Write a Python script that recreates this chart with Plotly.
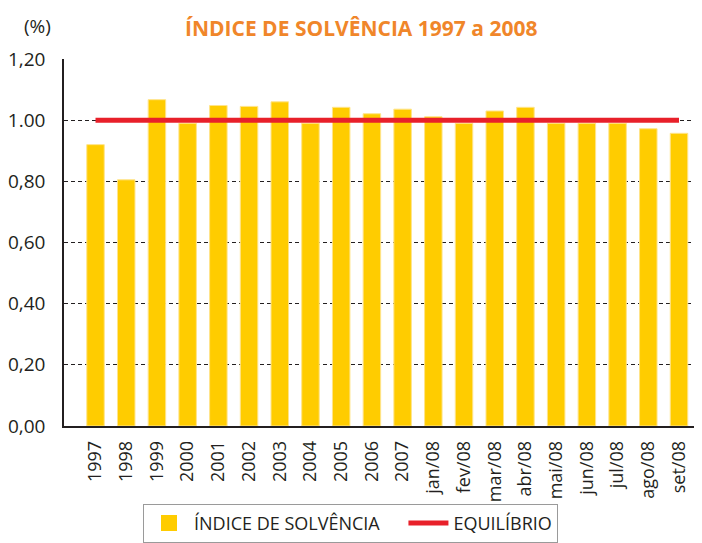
import plotly.graph_objects as go

categories = ["1997", "1998", "1999", "2000", "2001", "2002", "2003", "2004", "2005", "2006",
              "2007", "jan/08", "fev/08", "mar/08", "abr/08", "mai/08", "jun/08", "jul/08",
              "ago/08", "set/08"]
solvencia = [0.92, 0.805, 1.067, 0.99, 1.048, 1.045, 1.06, 0.99, 1.042, 1.021,
             1.036, 1.011, 0.99, 1.03, 1.042, 0.99, 0.99, 0.99, 0.972, 0.957]
equilibrio = 1.0
ytick_vals = [0, 0.2, 0.4, 0.6, 0.8, 1.0, 1.2]
ytick_text = ["0,00", "0,20", "0,40", "0,60", "0,80", "1.00", "1,20"]
legend_names = ["ÍNDICE DE SOLVÊNCIA", "EQUILÍBRIO"]

FONT = "Open Sans, sans-serif"
BAR_COLOR = "#FFCC00"
NBSP = "\u00a0"

# The page body adds an 8px margin, so the figure is 8px smaller than the window.
PLOT_L, PLOT_R, PLOT_T, PLOT_B = 64, 702, 59, 429  # plot area in window pixels
PW, PH = PLOT_R - PLOT_L, PLOT_B - PLOT_T


def px(xw):
    return (xw - PLOT_L) / PW


def py(yw):
    return (PLOT_B - yw) / PH


fig = go.Figure()
fig.add_trace(go.Bar(
    x=categories, y=solvencia, name=legend_names[0],
    marker=dict(color=BAR_COLOR, line=dict(color="#FFE48A", width=1)),
    width=0.57, showlegend=False,
))
# legend entry for the bars (larger square swatch)
fig.add_trace(go.Scatter(
    x=[None], y=[None], name=legend_names[0] + NBSP * 4, mode="markers",
    marker=dict(symbol="square", size=16, color=BAR_COLOR),
))
fig.add_trace(go.Scatter(
    x=[categories[0], categories[-1]], y=[equilibrio, equilibrio],
    name=legend_names[1], mode="lines",
    line=dict(color="#E8202A", width=5),
))

fig.update_layout(
    width=694, height=535,
    margin=dict(l=PLOT_L - 8, r=0, t=PLOT_T - 8, b=535 - (PLOT_B - 8)),
    paper_bgcolor="white", plot_bgcolor="white",
    font=dict(family=FONT, size=17, color="#231F20"),
    showlegend=True,
    legend=dict(
        orientation="h", x=px(143), xanchor="left",
        y=py(507.5), yanchor="top",
        bordercolor="#9a9a9a", borderwidth=1,
        font=dict(size=18, family=FONT),
        itemwidth=40, itemsizing="trace",
    ),
)
fig.add_annotation(text="<b>ÍNDICE DE SOLVÊNCIA 1997 a 2008</b>",
                   xref="paper", yref="paper",
                   x=px(361), y=py(28),
                   xanchor="center", yanchor="middle", showarrow=False,
                   font=dict(family=FONT, size=21, color="#F0862A"))
fig.add_annotation(text="(%)", xref="paper", yref="paper",
                   x=px(37), y=py(26),
                   xanchor="center", yanchor="middle", showarrow=False,
                   font=dict(family=FONT, size=19, color="#231F20"))

fig.update_xaxes(
    type="category", range=[-1.026, 19.749], automargin=False,
    showline=True, linecolor="#231F20", linewidth=1.5,
    showgrid=False, ticks="", tickangle=-90,
    tickfont=dict(size=18, family=FONT),
    ticklabelstandoff=6,
)
fig.update_yaxes(
    range=[0, 1.2], tickvals=ytick_vals, ticktext=ytick_text, automargin=False,
    showline=True, linecolor="#231F20", linewidth=1.5,
    showgrid=True, gridcolor="#231F20", gridwidth=1, griddash="4px,3px",
    zeroline=False, ticks="",
    tickfont=dict(size=19, family=FONT),
    ticklabelstandoff=13,
)

fig.write_html("out.html")
